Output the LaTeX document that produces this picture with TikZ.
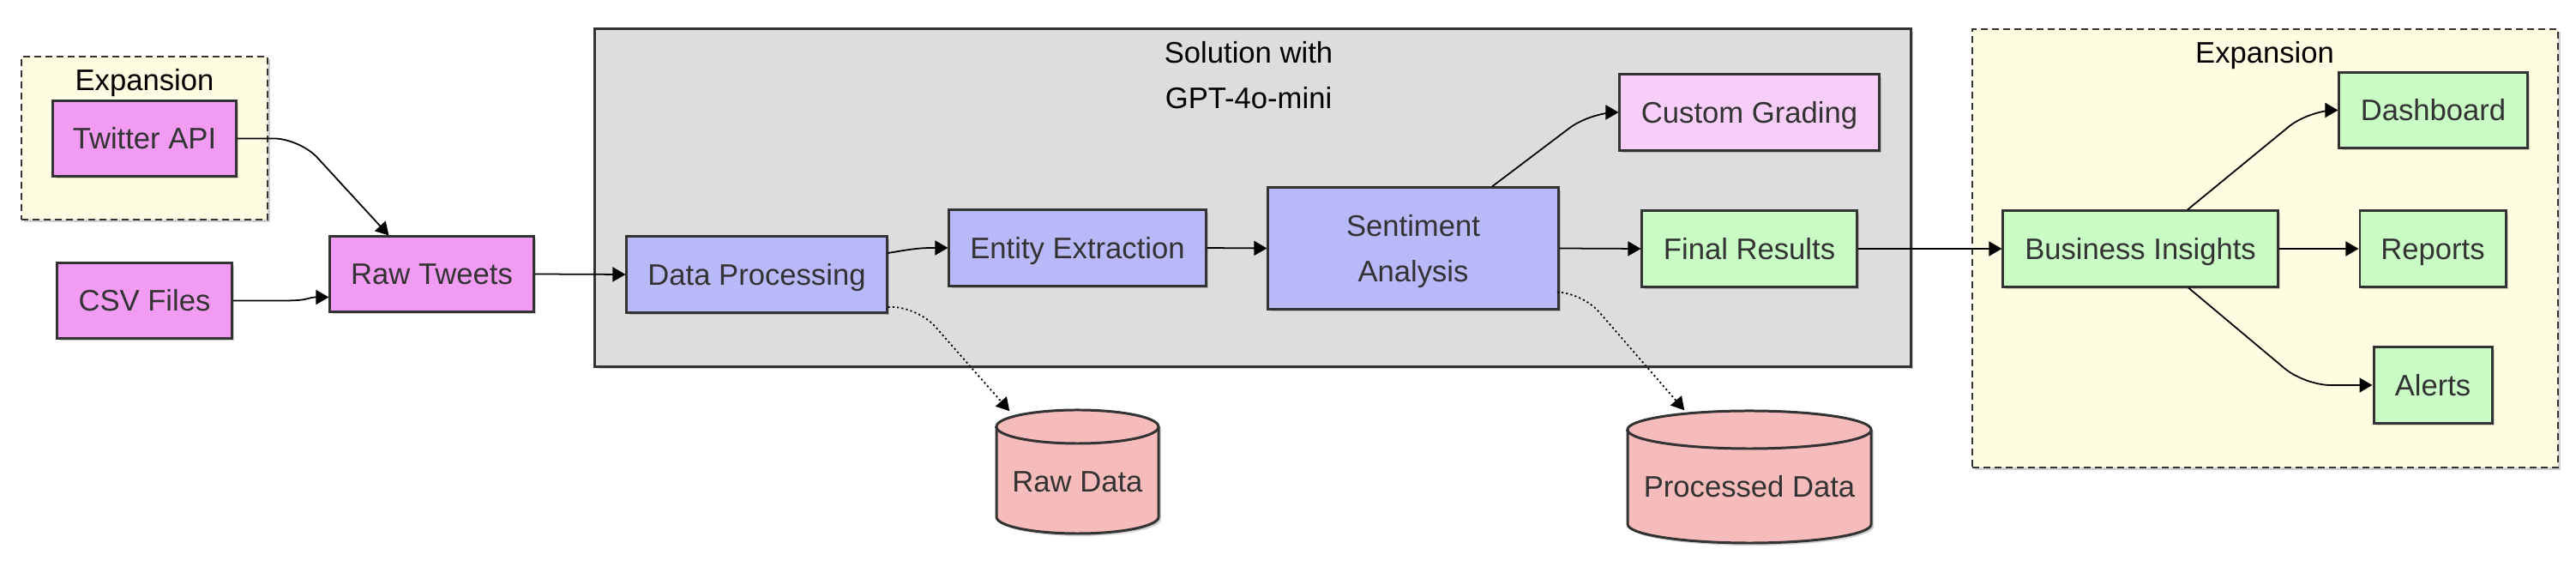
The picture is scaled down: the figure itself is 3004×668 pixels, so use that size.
\documentclass[tikz,border=0pt]{standalone}
\usepackage{fontspec}
\setmainfont{Liberation Sans}
\usetikzlibrary{arrows.meta,shadows,calc}
\definecolor{ink}{HTML}{333333}
\definecolor{pinkA}{HTML}{F19CF2}
\definecolor{lav}{HTML}{B9B9F9}
\definecolor{pinkB}{HTML}{F7CEF8}
\definecolor{greenA}{HTML}{CAFCC5}
\definecolor{cylfill}{HTML}{F5BCBB}
\definecolor{grayfill}{HTML}{DDDDDD}
\definecolor{cream}{HTML}{FEFDE1}
\begin{document}
\begin{tikzpicture}[x=0.01cm,y=-0.01cm,
  font=\fontsize{9.85}{15}\selectfont,
  softshadow/.style={drop shadow={shadow xshift=0.03cm,shadow yshift=-0.03cm,opacity=0.18,fill=black}},
  box/.style={draw=ink,line width=0.85pt,inner sep=0pt,text=ink,align=center,softshadow,text height=7.05pt,text depth=0pt},
  twoline/.style={text height=22.05pt,text depth=0pt},
  group/.style={draw=ink,line width=0.6pt,dash pattern=on 0.08cm off 0.05cm,fill=cream,inner sep=0pt,softshadow},
  solgroup/.style={draw=ink,line width=0.85pt,fill=grayfill,inner sep=0pt,softshadow},
  grouplabel/.style={text=black,align=center,inner sep=0pt,text height=7.05pt,text depth=0pt},
  conn/.style={draw=black,line width=0.5pt,-{Triangle[length=0.15cm,width=0.17cm]}},
  dotconn/.style={conn,dash pattern=on 0.6pt off 0.9pt},
  cyl/.style={fill=cylfill,draw=ink,line width=0.85pt},
  cyllabel/.style={text=ink,inner sep=0pt,text height=7.05pt,text depth=0pt}
]
\useasboundingbox (0,0) rectangle (3004,668);

% containers
\node[group,minimum width=2.87cm,minimum height=1.90cm] (expL) at (168.5,161) {};
\node[grouplabel] (expLlbl) at (168.5,93) {Expansion};
\node[solgroup,minimum width=15.34cm,minimum height=3.93cm] (sol) at (1461,230.5) {};
\node[grouplabel,twoline] (sollbl) at (1456,87.5) {Solution with\\GPT-4o-mini};
\node[group,minimum width=6.83cm,minimum height=5.11cm] (expR) at (2641.5,289.5) {};
\node[grouplabel] (expRlbl) at (2641,61) {Expansion};

% nodes
\node[box,fill=pinkA,minimum width=2.13cm,minimum height=0.87cm] (twitter) at (168.5,161.5) {Twitter API};
\node[box,fill=pinkA,minimum width=2.03cm,minimum height=0.87cm] (csv) at (168.5,350.5) {CSV Files};
\node[box,fill=pinkA,minimum width=2.37cm,minimum height=0.87cm] (raw) at (503.5,319.5) {Raw Tweets};
\node[box,fill=lav,minimum width=3.03cm,minimum height=0.88cm] (dp) at (882.5,320) {Data Processing};
\node[box,fill=lav,minimum width=2.99cm,minimum height=0.88cm] (ee) at (1256.5,289) {Entity Extraction};
\node[box,twoline,fill=lav,minimum width=3.38cm,minimum height=1.41cm] (sa) at (1648,289.5) {Sentiment\\Analysis};
\node[box,fill=pinkB,minimum width=3.02cm,minimum height=0.88cm] (cg) at (2040,131) {Custom Grading};
\node[box,fill=greenA,minimum width=2.50cm,minimum height=0.88cm] (fr) at (2040,290) {Final Results};
\node[box,fill=greenA,minimum width=3.20cm,minimum height=0.88cm] (bi) at (2496,290) {Business Insights};
\node[box,fill=greenA,minimum width=2.19cm,minimum height=0.87cm] (dash) at (2837.5,128.5) {Dashboard};
\node[box,fill=greenA,minimum width=1.70cm,minimum height=0.88cm] (rep) at (2837,290) {Reports};
\node[box,fill=greenA,minimum width=1.38cm,minimum height=0.88cm] (alerts) at (2837,449) {Alerts};

% cylinders
\node[minimum width=1.89cm,minimum height=1.44cm,inner sep=0pt] (rawd) at (1256.5,550) {};
\filldraw[cyl,softshadow] (1162,497.5) -- (1162,602.5) arc[start angle=180,end angle=360,x radius=0.945cm,y radius=0.195cm] -- (1351,497.5) arc[start angle=0,end angle=180,x radius=0.945cm,y radius=0.195cm] -- cycle;
\draw[draw=ink,line width=0.85pt] (1162,497.5) arc[start angle=180,end angle=360,x radius=0.945cm,y radius=0.195cm];
\node[cyllabel] (rawdlbl) at (1256.5,561) {Raw Data};

\node[minimum width=2.84cm,minimum height=1.54cm,inner sep=0pt] (pd) at (2040,556) {};
\filldraw[cyl,softshadow] (1898,501) -- (1898,611) arc[start angle=180,end angle=360,x radius=1.42cm,y radius=0.22cm] -- (2182,501) arc[start angle=0,end angle=180,x radius=1.42cm,y radius=0.22cm] -- cycle;
\draw[draw=ink,line width=0.85pt] (1898,501) arc[start angle=180,end angle=360,x radius=1.42cm,y radius=0.22cm];
\node[cyllabel] (pdlbl) at (2040,567) {Processed Data};

% connectors
\draw[conn,rounded corners=0.3cm] (twitter.east) -- ++(73,0) -- ($(raw.north west)+(70,0)$);
\draw[conn] (csv.east) -- ++(60,0) .. controls +(30,0) and +(-25,0) .. ($(raw.west)+(0,27)$);
\draw[conn] (raw.east) -- (dp.west);
\draw[conn] ($(dp.east)+(0,-25)$) .. controls +(35,-6) and +(-30,0) .. (ee.west);
\draw[conn] (ee.east) -- (sa.west);
\draw[conn,rounded corners=0.3cm] ($(sa.north)+(92,0)$) -- ($(cg.west)+(-33,0)$) -- (cg.west);
\draw[conn] (sa.east) -- (fr.west);
\draw[dotconn,rounded corners=0.3cm] ($(sa.east)+(0,51)$) -- ++(26,0) -- ($(pd.north west)+(67,0)$);
\draw[dotconn,rounded corners=0.3cm] ($(dp.east)+(0,38)$) -- ++(35,0) -- ($(rawd.north west)+(16,2)$);
\draw[conn] (fr.east) -- (bi.west);
\draw[conn,rounded corners=0.3cm] ($(bi.north)+(55,0)$) -- ($(dash.west)+(-34,0)$) -- (dash.west);
\draw[conn] (bi.east) -- (rep.west);
\draw[conn,rounded corners=0.3cm] ($(bi.south)+(56,0)$) -- ($(alerts.west)+(-79,0)$) -- (alerts.west);
\end{tikzpicture}
\end{document}
